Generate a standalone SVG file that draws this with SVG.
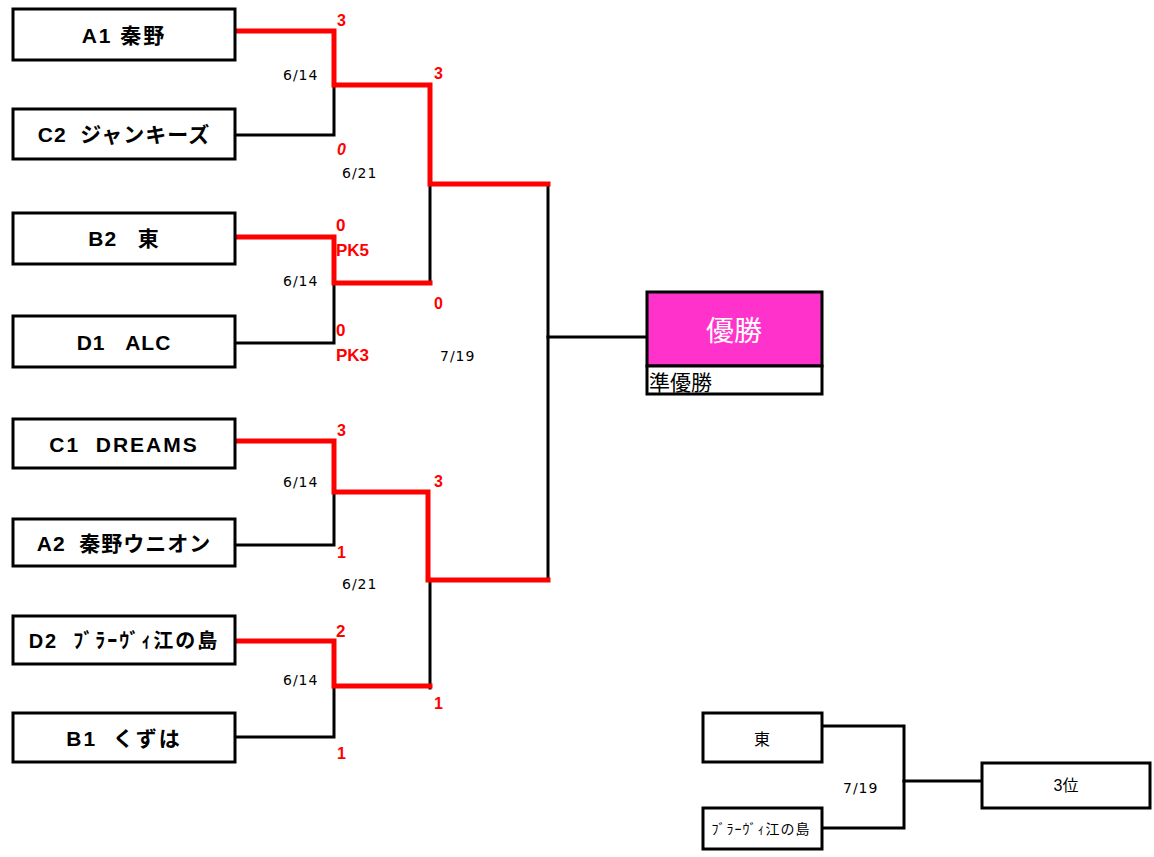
<svg xmlns="http://www.w3.org/2000/svg" width="1154" height="857" viewBox="0 0 1154 857">
<style>
.box{fill:#fff;stroke:#000;stroke-width:3}
.team{font-family:"Liberation Sans","Noto Sans CJK JP",sans-serif;font-weight:bold;font-size:21px;fill:#000;text-anchor:middle;white-space:pre;letter-spacing:1px}
.blk{fill:none;stroke:#000;stroke-width:3;stroke-linecap:square}
.red{fill:none;stroke:#f00;stroke-width:5;stroke-linecap:square}
.date{font-family:"DejaVu Sans","Noto Sans CJK JP",sans-serif;font-size:14px;fill:#000;letter-spacing:1px}
.score{font-family:"Liberation Sans",sans-serif;font-weight:bold;font-size:16px;fill:#f00}
.pk{font-family:"Liberation Sans",sans-serif;font-weight:bold;font-size:17px;fill:#f00}
.small{font-family:"Liberation Sans","Noto Sans CJK JP",sans-serif;font-size:16px;fill:#000;text-anchor:middle}
</style>
<rect width="1154" height="857" fill="#fff"/>
<g id="connectors">
<path class="blk" d="M235 135H334V85"/>
<path class="blk" d="M235 343H334V283"/>
<path class="blk" d="M430 184V283"/>
<path class="blk" d="M235 545H334V492"/>
<path class="blk" d="M235 737H334V686"/>
<path class="blk" d="M430 580V688"/>
<path class="blk" d="M548 184V580"/>
<path class="blk" d="M548 337H647"/>
<path class="blk" d="M822 726H904V828H822"/>
<path class="blk" d="M904 781H982"/>
<path class="red" d="M235 31H334V85H430V184H548"/>
<path class="red" d="M235 237H334V283H430"/>
<path class="red" d="M235 441H334V492H428V580H548"/>
<path class="red" d="M235 641H334V686H430"/>
</g>
<g id="A1"><rect class="box" x="13" y="9" width="222" height="51"/><text class="team" x="124" y="43" xml:space="preserve" style="letter-spacing:2px">A1 秦野</text></g>
<g id="C2"><rect class="box" x="13" y="109" width="222" height="50"/><text class="team" x="124" y="142" xml:space="preserve">C2  ジャンキーズ</text></g>
<g id="B2"><rect class="box" x="13" y="213" width="222" height="51"/><text class="team" x="124" y="246" xml:space="preserve">B2   東</text></g>
<g id="D1"><rect class="box" x="13" y="316" width="222" height="51"/><text class="team" x="124" y="350" xml:space="preserve">D1   ALC</text></g>
<g id="C1"><rect class="box" x="13" y="419" width="222" height="49"/><text class="team" x="124" y="452" xml:space="preserve" style="letter-spacing:2px">C1  DREAMS</text></g>
<g id="A2"><rect class="box" x="13" y="519" width="222" height="47"/><text class="team" x="124" y="551" xml:space="preserve">A2  秦野ウニオン</text></g>
<g id="D2"><rect class="box" x="13" y="616" width="222" height="48"/><text class="team" x="124" y="648" xml:space="preserve" style="font-size:20px;letter-spacing:2px">D2  ﾌﾞﾗｰｳﾞｨ江の島</text></g>
<g id="B1"><rect class="box" x="13" y="713" width="222" height="49"/><text class="team" x="124" y="746" xml:space="preserve" style="letter-spacing:2px">B1  くずは</text></g>
<g id="labels">
<text class="score" x="337" y="26">3</text>
<text class="score" x="337" y="155" font-style="italic">0</text>
<text class="date" x="283" y="80">6/14</text>
<text class="score" x="434" y="79">3</text>
<text class="date" x="342" y="178">6/21</text>
<text class="pk" x="336" y="231">0</text>
<text class="pk" x="336" y="256">PK5</text>
<text class="date" x="283" y="286">6/14</text>
<text class="pk" x="336" y="336">0</text>
<text class="pk" x="336" y="361">PK3</text>
<text class="score" x="434" y="309">0</text>
<text class="date" x="440" y="361">7/19</text>
<text class="score" x="337" y="436">3</text>
<text class="date" x="283" y="487">6/14</text>
<text class="score" x="434" y="487">3</text>
<text class="score" x="337" y="558">1</text>
<text class="date" x="342" y="589">6/21</text>
<text class="pk" x="336" y="637">2</text>
<text class="date" x="283" y="685">6/14</text>
<text class="score" x="434" y="709">1</text>
<text class="score" x="337" y="759">1</text>
<text class="date" x="843" y="793">7/19</text>
</g>
<g id="winner">
<rect x="647" y="292" width="175" height="74" fill="#ff33cc" stroke="#000" stroke-width="3"/>
<text x="734" y="341" style="font-family:'Noto Sans CJK JP',sans-serif;font-size:28px;fill:#fff;text-anchor:middle">優勝</text>
</g>
<g id="runnerup">
<rect class="box" x="647" y="366" width="175" height="28"/>
<text x="649" y="390" style="font-family:'Noto Sans CJK JP',sans-serif;font-size:21px;fill:#000">準優勝</text>
</g>
<g id="third-a"><rect class="box" x="703" y="713" width="119" height="49"/><text class="small" x="762" y="745">東</text></g>
<g id="third-b"><rect class="box" x="703" y="808" width="119" height="41"/><text class="small" x="761" y="834" style="font-size:14px;letter-spacing:1px">ﾌﾞﾗｰｳﾞｨ江の島</text></g>
<g id="third"><rect class="box" x="982" y="763" width="168" height="45"/><text class="small" x="1066" y="791">3位</text></g>
</svg>
